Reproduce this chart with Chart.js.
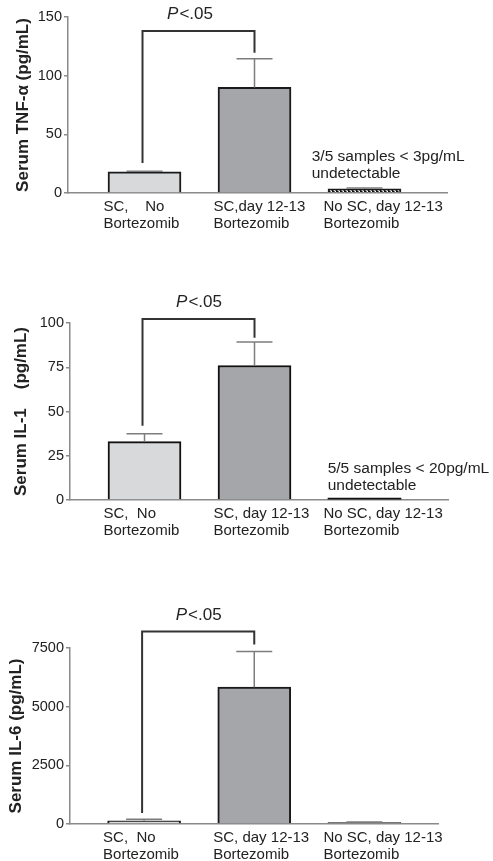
<!DOCTYPE html>
<html lang="en">
<head>
    <meta charset="UTF-8">
    <title>Serum cytokines</title>
    <script src="https://cdn.jsdelivr.net/npm/chart.js"></script>
    <style>
        body { margin: 0; background: #fff; }
        .painel { position: absolute; left: 0; }
    </style>
</head>
<body>
    <canvas id="graficoTNF" class="painel" width="493" height="245" style="top:0px"></canvas>
    <canvas id="graficoIL1" class="painel" width="493" height="285" style="top:270px"></canvas>
    <canvas id="graficoIL6" class="painel" width="493" height="301" style="top:560px"></canvas>

<script>
    // grupos (rótulos do eixo x)
    var gruposTNF = [['SC,    No', 'Bortezomib'], ['SC,day 12-13', 'Bortezomib'], ['No SC, day 12-13', 'Bortezomib']];
    var gruposIL = [['SC,  No', 'Bortezomib'], ['SC, day 12-13', 'Bortezomib'], ['No SC, day 12-13', 'Bortezomib']];

    // TNF-alfa
    var mediaTNF = [18, 90, 3.5];
    var erroTNF = [18.6, 114.5, 4.2];
    var ticksTNF = [0, 50, 100, 150];
    var colcheteTNF = [25.5, 138, 119.5];   // pé esquerdo, topo, pé direito
    var notaTNF = ['3/5 samples < 3pg/mL', 'undetectable'];
    var posNotaTNF = [2.52, 27.5];

    // IL-1
    var mediaIL1 = [33, 76, 1.1];
    var erroIL1 = [37.5, 89.2, null];
    var ticksIL1 = [0, 25, 50, 75, 100];
    var colcheteIL1 = [42, 102.3, 91.7];
    var notaIL1 = ['5/5 samples < 20pg/mL', 'undetectable'];
    var posNotaIL1 = [2.665, 15.5];

    // IL-6
    var mediaIL6 = [140, 5830, 70];
    var erroIL6 = [200, 7355, 90];
    var ticksIL6 = [0, 2500, 5000, 7500];
    var colcheteIL6 = [470, 8200, 7650];

    Chart.defaults.font.family = '"Liberation Sans", Arial, sans-serif';
    Chart.defaults.color = '#222';

    function hachura() {
        var c = document.createElement('canvas');
        c.width = 4; c.height = 4;
        var g = c.getContext('2d');
        g.fillStyle = '#111';
        g.fillRect(0, 0, 4, 4);
        g.strokeStyle = '#fff';
        g.lineWidth = 1.3;
        g.beginPath(); g.moveTo(-1, -1); g.lineTo(5, 5); g.stroke();
        return g.createPattern(c, 'repeat');
    }

    var FONTE = '"Liberation Sans", Arial, sans-serif';

    // barras de erro, colchete de significância e notas
    var extras = {
        id: 'extras',
        afterDatasetsDraw: function (chart, args, cfg) {
            var ctx = chart.ctx, xs = chart.scales.x, ys = chart.scales.y;
            ctx.save();

            // barras de erro
            ctx.strokeStyle = '#7d7d7d';
            ctx.lineWidth = 1.5;
            cfg.medias.forEach(function (m, i) {
                if (cfg.erros[i] == null) return;
                var x = xs.getPixelForValue(i + 1);
                var y0 = ys.getPixelForValue(m);
                var y1 = ys.getPixelForValue(cfg.erros[i]);
                ctx.beginPath();
                ctx.moveTo(x, y0); ctx.lineTo(x, y1);
                ctx.moveTo(x - 18, y1); ctx.lineTo(x + 18, y1);
                ctx.stroke();
            });

            // colchete
            var xa = xs.getPixelForValue(1) - 2, xb = xs.getPixelForValue(2);
            var yTopo = ys.getPixelForValue(cfg.colchete[1]);
            ctx.strokeStyle = '#333';
            ctx.lineWidth = 2;
            ctx.beginPath();
            ctx.moveTo(xa, ys.getPixelForValue(cfg.colchete[0]));
            ctx.lineTo(xa, yTopo);
            ctx.lineTo(xb, yTopo);
            ctx.lineTo(xb, ys.getPixelForValue(cfg.colchete[2]));
            ctx.stroke();

            // P<.05
            ctx.fillStyle = '#222';
            ctx.textBaseline = 'alphabetic';
            ctx.textAlign = 'left';
            ctx.font = 'italic 17px ' + FONTE;
            var wP = ctx.measureText('P').width;
            ctx.font = '17px ' + FONTE;
            var wR = ctx.measureText('<.05').width;
            var xc = (xa + xb) / 2 + (cfg.desvioP || 0) - (wP + wR) / 2;
            ctx.font = 'italic 17px ' + FONTE;
            ctx.fillText('P', xc, yTopo - 12);
            ctx.font = '17px ' + FONTE;
            ctx.fillText('<.05', xc + wP + 1, yTopo - 12);

            // nota
            if (cfg.nota) {
                ctx.font = '15.5px ' + FONTE;
                var xn = xs.getPixelForValue(cfg.posNota[0]);
                var yn = ys.getPixelForValue(cfg.posNota[1]);
                cfg.nota.forEach(function (linha, k) {
                    ctx.fillText(linha, xn, yn + k * 17);
                });
            }
            ctx.restore();
        }
    };

    function criarGrafico(id, cfg) {
        var ctx = document.getElementById(id).getContext('2d');
        var yMax = cfg.ticks[cfg.ticks.length - 1];
        return new Chart(ctx, {
            type: 'bar',
            data: {
                datasets: [{
                    data: cfg.medias.map(function (v, i) { return { x: i + 1, y: v }; }),
                    backgroundColor: cfg.cores,
                    borderColor: cfg.bordas,
                    borderWidth: cfg.espessuras,
                    barThickness: 73
                }]
            },
            options: {
                responsive: false,
                animation: false,
                layout: { padding: { top: cfg.topo, right: cfg.direita, left: 0, bottom: 0 } },
                plugins: {
                    legend: { display: false },
                    tooltip: { enabled: false },
                    extras: cfg
                },
                scales: {
                    x: {
                        type: 'linear',
                        offset: false,
                        min: cfg.xMin,
                        max: cfg.xMax,
                        grid: { display: false, drawTicks: false, offset: false },
                        border: { color: '#8a8a8a', width: 1.5 },
                        afterBuildTicks: function (s) {
                            s.ticks = cfg.grupos.map(function (g, i) { return { value: i + 1 }; });
                        },
                        afterFit: function (s) {
                            s.height = cfg.alturaX;
                            s.paddingLeft = 0;
                            s.paddingRight = 0;
                        },
                        ticks: {
                            autoSkip: false,
                            maxRotation: 0,
                            align: 'start',
                            labelOffset: -41,
                            padding: 5,
                            color: '#222',
                            font: { size: 15, lineHeight: 1.15 },
                            callback: function (v) { return cfg.grupos[v - 1]; }
                        }
                    },
                    y: {
                        min: 0,
                        max: yMax,
                        afterBuildTicks: function (s) {
                            s.ticks = cfg.ticks.map(function (v) { return { value: v }; });
                        },
                        afterFit: function (s) { s.width = cfg.larguraY; },
                        grid: { drawOnChartArea: false, tickLength: 4, color: '#8a8a8a', lineWidth: 1.5 },
                        border: { color: '#8a8a8a', width: 1.5 },
                        ticks: {
                            padding: 2, color: '#222', font: { size: 14.5 },
                            callback: function (v) { return String(v); }
                        },
                        title: {
                            display: true,
                            text: cfg.titulo,
                            color: '#222',
                            font: { size: 17, weight: 'bold' },
                            padding: { top: cfg.tituloPad, bottom: 0 }
                        }
                    }
                }
            },
            plugins: [extras]
        });
    }

    criarGrafico('graficoTNF', {
        grupos: gruposTNF, medias: mediaTNF, erros: erroTNF, ticks: ticksTNF,
        colchete: colcheteTNF, nota: notaTNF, posNota: posNotaTNF, desvioP: -9,
        titulo: 'Serum TNF-\u03b1 (pg/mL)', tituloPad: 13,
        cores: ['#d8d9db', '#a5a6a9', hachura()], bordas: '#1a1a1a', espessuras: [2, 2, 2],
        topo: 17, direita: 46, alturaX: 52, larguraY: 68, xMin: 0.3045, xMax: 3.75
    });

    criarGrafico('graficoIL1', {
        grupos: gruposIL, medias: mediaIL1, erros: erroIL1, ticks: ticksIL1,
        colchete: colcheteIL1, nota: notaIL1, posNota: posNotaIL1,
        titulo: 'Serum IL-1    (pg/mL)', tituloPad: 11,
        cores: ['#d8d9db', '#a5a6a9', '#111'], bordas: '#111', espessuras: [2, 2, 0],
        topo: 53, direita: 45, alturaX: 55, larguraY: 70, xMin: 0.3227, xMax: 3.759
    });

    criarGrafico('graficoIL6', {
        grupos: gruposIL, medias: mediaIL6, erros: erroIL6, ticks: ticksIL6,
        colchete: colcheteIL6,
        titulo: 'Serum IL-6 (pg/mL)', tituloPad: 6,
        cores: ['#d8d9db', '#a5a6a9', '#9a9a9a'], bordas: ['#1a1a1a', '#1a1a1a', '#555'], espessuras: [2, 2, 1],
        topo: 88, direita: 55, alturaX: 37, larguraY: 70, xMin: 0.3273, xMax: 3.668
    });
</script>
</body>
</html>
